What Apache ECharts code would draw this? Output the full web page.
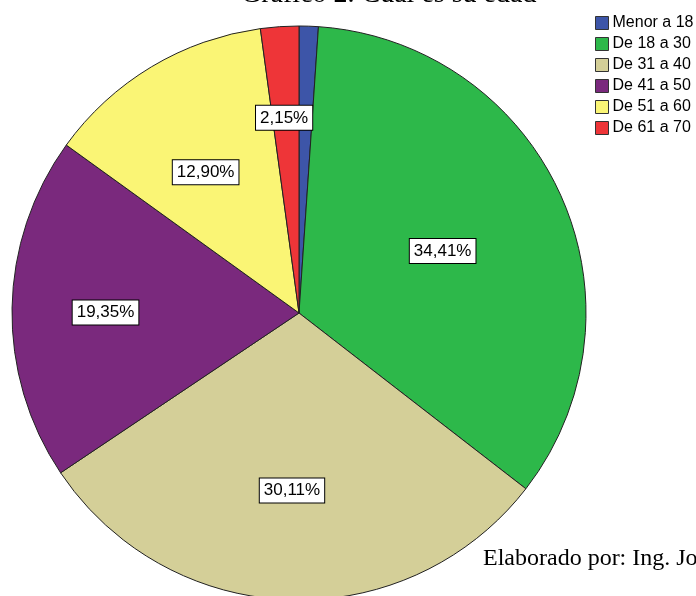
<!DOCTYPE html>
<html>
<head>
<meta charset="utf-8">
<script src="https://cdn.jsdelivr.net/npm/echarts@6/dist/echarts.min.js"></script>
<style>
html,body{margin:0;padding:0;background:#fff;}
#chart{width:696px;height:596px;}
</style>
</head>
<body>
<div id="chart"></div>
<script>
// ---- data ----
var categories = ['Menor a 18', 'De 18 a 30', 'De 31 a 40', 'De 41 a 50', 'De 51 a 60', 'De 61 a 70'];
var percents = [1.08, 34.41, 30.11, 19.35, 12.90, 2.15];
var showLabel = [false, true, true, true, true, true];
var titleText = 'Gráfico 2. Cuál es su edad';
var footerText = 'Elaborado por: Ing. Jo';

// ---- styles ----
var colors = ['#3D55A8', '#2DB84A', '#D4CF98', '#7A297D', '#FAF575', '#EE3538'];
var labelShift = [[0, 0], [10, -2], [-2, 31], [-47, 2], [-18, -15], [-5, -49]];

var chart = echarts.init(document.getElementById('chart'), null, {renderer: 'canvas'});

var seriesData = categories.map(function (c, i) {
  return {
    name: c,
    value: percents[i],
    itemStyle: {color: colors[i]},
    label: {show: showLabel[i]}
  };
});

chart.setOption({
  animation: false,
  backgroundColor: '#ffffff',
  legend: {
    orient: 'vertical',
    left: 590,
    top: 10,
    icon: 'rect',
    itemWidth: 13,
    itemHeight: 13,
    itemGap: 5,
    selectedMode: false,
    data: categories,
    itemStyle: {borderColor: '#333', borderWidth: 1},
    textStyle: {fontFamily: 'Liberation Sans', fontSize: 16, color: '#000', padding: [0, 0, 0, -1]}
  },
  graphic: [
    {type: 'text', left: 241, top: -19, silent: true,
     style: {text: titleText, font: '28px "Liberation Serif"', fill: '#000'}},
    {type: 'text', left: 483, top: 547, silent: true,
     style: {text: footerText, font: '24px "Liberation Serif"', fill: '#000'}}
  ],
  series: [{
    type: 'pie',
    center: [299, 313],
    radius: 287,
    startAngle: 90,
    clockwise: true,
    avoidLabelOverlap: false,
    itemStyle: {borderColor: '#222', borderWidth: 1},
    label: {
      show: true,
      position: 'inside',
      fontFamily: 'Liberation Sans',
      fontSize: 17,
      color: '#000',
      backgroundColor: '#fff',
      borderColor: '#000',
      borderWidth: 1,
      padding: [4, 4, 3, 4],
      formatter: function (p) { return p.value.toFixed(2).replace('.', ',') + '%'; }
    },
    labelLine: {show: false},
    labelLayout: function (p) {
      var s = labelShift[p.dataIndex];
      var r = p.labelRect;
      return {
        x: r.x + r.width / 2 + s[0],
        y: r.y + r.height / 2 + s[1]
      };
    },
    emphasis: {disabled: true},
    data: seriesData
  }]
});
</script>
</body>
</html>
